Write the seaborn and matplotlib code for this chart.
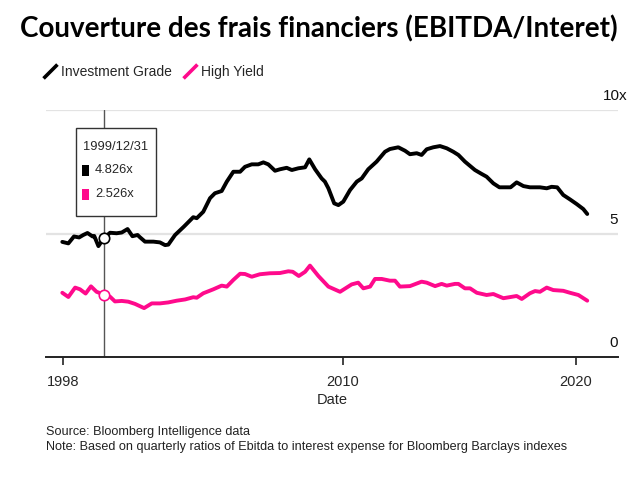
import matplotlib
matplotlib.use("Agg")
import matplotlib.pyplot as plt
from matplotlib.lines import Line2D
from matplotlib.patches import Rectangle
import seaborn as sns
import pandas as pd

# values (decimal year, coverage ratio)
ig_year = [1997.97, 1998.23, 1998.47, 1998.69, 1998.87, 1999.05, 1999.27, 1999.34, 1999.52, 1999.76,
           2000.02, 2000.30, 2000.52, 2000.77, 2000.98, 2001.20, 2001.30, 2001.52, 2001.88, 2002.16,
           2002.38, 2002.52, 2002.81, 2003.19, 2003.59, 2003.74, 2004.02, 2004.31, 2004.52, 2004.81,
           2005.03, 2005.31, 2005.60, 2005.81, 2006.10, 2006.38, 2006.60, 2006.81, 2007.10, 2007.31,
           2007.60, 2007.82, 2008.10, 2008.39, 2008.57, 2008.82, 2009.10, 2009.24, 2009.39, 2009.64,
           2009.82, 2010.03, 2010.32, 2010.61, 2010.82, 2011.10, 2011.46, 2011.82, 2012.03, 2012.39,
           2012.68, 2012.89, 2013.18, 2013.39, 2013.61, 2013.89, 2014.18, 2014.47, 2014.75, 2014.97,
           2015.25, 2015.68, 2015.97, 2016.18, 2016.47, 2016.73, 2017.21, 2017.47, 2017.76, 2018.04,
           2018.47, 2018.76, 2018.97, 2019.21, 2019.47, 2019.76, 2020.05, 2020.33, 2020.50]
ig_val = [4.66, 4.60, 4.88, 4.84, 4.94, 5.02, 4.88, 4.90, 4.49, 4.826,
          5.03, 5.01, 5.04, 5.18, 4.89, 4.94, 4.85, 4.67, 4.67, 4.64,
          4.53, 4.55, 4.94, 5.28, 5.66, 5.62, 5.88, 6.43, 6.63, 6.72,
          7.10, 7.50, 7.50, 7.70, 7.80, 7.80, 7.88, 7.80, 7.54, 7.60,
          7.66, 7.57, 7.64, 7.68, 8.00, 7.60, 7.23, 7.10, 6.83, 6.22,
          6.15, 6.29, 6.76, 7.10, 7.23, 7.60, 7.91, 8.31, 8.42, 8.49,
          8.35, 8.21, 8.25, 8.18, 8.41, 8.49, 8.54, 8.45, 8.31, 8.18,
          7.91, 7.57, 7.41, 7.30, 7.03, 6.87, 6.87, 7.07, 6.92, 6.87,
          6.87, 6.83, 6.89, 6.87, 6.56, 6.38, 6.19, 5.99, 5.79]

hy_year = [1997.97, 1998.23, 1998.52, 1998.73, 1998.97, 1999.20, 1999.44, 1999.76, 2000.02, 2000.23,
           2000.52, 2000.80, 2001.09, 2001.48, 2001.81, 2002.16, 2002.52, 2002.88, 2003.24, 2003.59,
           2003.74, 2004.02, 2004.45, 2004.81, 2005.03, 2005.31, 2005.60, 2005.81, 2006.10, 2006.45,
           2006.88, 2007.31, 2007.67, 2007.86, 2008.12, 2008.39, 2008.60, 2008.96, 2009.39, 2009.89,
           2010.39, 2010.67, 2010.89, 2011.18, 2011.39, 2011.68, 2012.03, 2012.25, 2012.46, 2012.89,
           2013.39, 2013.61, 2013.97, 2014.25, 2014.47, 2014.82, 2014.97, 2015.25, 2015.47, 2015.76,
           2016.18, 2016.47, 2016.90, 2017.47, 2017.69, 2018.04, 2018.26, 2018.47, 2018.76, 2019.04,
           2019.47, 2019.76, 2020.12, 2020.50]
hy_val = [2.60, 2.43, 2.81, 2.74, 2.57, 2.86, 2.64, 2.526, 2.44, 2.25,
          2.27, 2.24, 2.15, 1.98, 2.17, 2.17, 2.21, 2.28, 2.33, 2.42,
          2.40, 2.58, 2.74, 2.89, 2.85, 3.12, 3.37, 3.36, 3.25, 3.35,
          3.39, 3.40, 3.47, 3.45, 3.28, 3.45, 3.70, 3.28, 2.85, 2.64,
          2.94, 3.01, 2.78, 2.85, 3.16, 3.16, 3.09, 3.09, 2.85, 2.87,
          3.05, 3.01, 2.87, 2.96, 2.89, 2.96, 2.96, 2.78, 2.78, 2.60,
          2.51, 2.55, 2.38, 2.47, 2.35, 2.58, 2.67, 2.64, 2.81, 2.71,
          2.68, 2.60, 2.51, 2.28]

series_names = ["Investment Grade", "High Yield"]
series_colors = ["#000000", "#ff0a8c"]
x_ticks = [1998, 2010, 2020]
y_ticks = [0, 5, 10]
y_tick_labels = ["0", "5", "10x"]
hover_year = 1999.76
hover_label = "1999/12/31"
hover_vals = [4.826, 2.526]

title = "Couverture des frais financiers (EBITDA/Interet)"
source = "Source: Bloomberg Intelligence data"
note = "Note: Based on quarterly ratios of Ebitda to interest expense for Bloomberg Barclays indexes"


def main():
    sns.set_theme(style="white")
    plt.rcParams["font.family"] = ["Liberation Sans", "DejaVu Sans"]

    df = pd.concat([
        pd.DataFrame({"Date": ig_year, "ratio": ig_val, "series": series_names[0]}),
        pd.DataFrame({"Date": hy_year, "ratio": hy_val, "series": series_names[1]}),
    ], ignore_index=True)

    fig = plt.figure(figsize=(6.37, 4.8), dpi=100)
    ax = fig.add_axes([46 / 637, 1 - 357 / 480, (618 - 46) / 637, (357 - 110) / 480])

    sns.lineplot(data=df, x="Date", y="ratio", hue="series", hue_order=series_names,
                 palette=series_colors, linewidth=2.8, legend=False, ax=ax, zorder=3)

    ax.set_xlim(1997.27, 2021.82)
    ax.set_ylim(0, 10)
    for s in ["top", "right", "left"]:
        ax.spines[s].set_visible(False)
    ax.spines["bottom"].set_color("#222222")
    ax.spines["bottom"].set_linewidth(1.4)

    # gridlines at 5 and 10
    for v in y_ticks[1:]:
        ax.axhline(v, color="#e3e3e3", linewidth=1.6, zorder=1)
    ax.set_yticks([])
    for v, lab in zip(y_ticks, y_tick_labels):
        ax.annotate(lab, xy=(1.0, v), xycoords=("axes fraction", "data"),
                    xytext=(0 if lab != "10x" else 7, 5), textcoords="offset points",
                    ha="right", va="bottom", fontsize=11, color="#111111")

    ax.set_xticks(x_ticks)
    ax.set_xticklabels([str(t) for t in x_ticks])
    ax.tick_params(axis="x", direction="out", length=6, width=1.2, color="#222222",
                   labelsize=10.5, pad=7, bottom=True)
    ax.set_xlabel("Date", fontsize=10.5, labelpad=3)
    ax.set_ylabel("")

    # crosshair + tooltip
    ax.axvline(hover_year, ymax=1.0, color="#555555", linewidth=1.0, zorder=2)
    for v, c in zip(hover_vals, series_colors):
        ax.plot([hover_year], [v], marker="o", markersize=7.5, markerfacecolor="white",
                markeredgecolor=c, markeredgewidth=1.2, zorder=5)

    # tooltip box in pixel-based figure coords
    bx0, bx1, by0, by1 = 76 / 637, 156 / 637, 1 - 216 / 480, 1 - 128 / 480
    fig.patches.append(Rectangle((bx0, by0), bx1 - bx0, by1 - by0, transform=fig.transFigure,
                                 facecolor="white", edgecolor="#333333", linewidth=1.0, zorder=10))
    fig.text(83 / 637, 1 - 147 / 480, hover_label, fontsize=9.3, va="center", ha="left", zorder=11)
    for i, (v, c) in enumerate(zip(hover_vals, series_colors)):
        yy = 1 - (170 + 24 * i) / 480
        fig.patches.append(Rectangle((82 / 637, yy - 5.5 / 480), 7 / 637, 11 / 480,
                                     transform=fig.transFigure, facecolor=c, edgecolor="none",
                                     zorder=11))
        fig.text(95 / 637, yy, f"{v:.3f}x", fontsize=9.3, va="center", ha="left", zorder=11)

    # legend with slanted stroke handles
    handles = [Line2D([], [], linestyle="none", marker=[(-1, -1), (1, 1)], markersize=10,
                      markeredgewidth=2.6, markeredgecolor=c, color=c) for c in series_colors]
    fig.legend(handles, series_names, loc="center left", bbox_to_anchor=(44 / 637, 1 - 72 / 480),
               ncol=2, frameon=False, fontsize=10, handlelength=0.8, handletextpad=0.4,
               columnspacing=0.9, borderaxespad=0, borderpad=0)

    fig.text(0.5, 1 - 29 / 480, title, ha="center", va="center", fontsize=20,
             fontweight="bold", color="black", family=["Lato", "DejaVu Sans"])
    fig.text(46 / 637, 1 - 432 / 480, source, ha="left", va="center", fontsize=9.1, color="#222222")
    fig.text(46 / 637, 1 - 447 / 480, note, ha="left", va="center", fontsize=9.1, color="#222222")

    fig.savefig("out.png", dpi=100)


if __name__ == "__main__":
    main()
